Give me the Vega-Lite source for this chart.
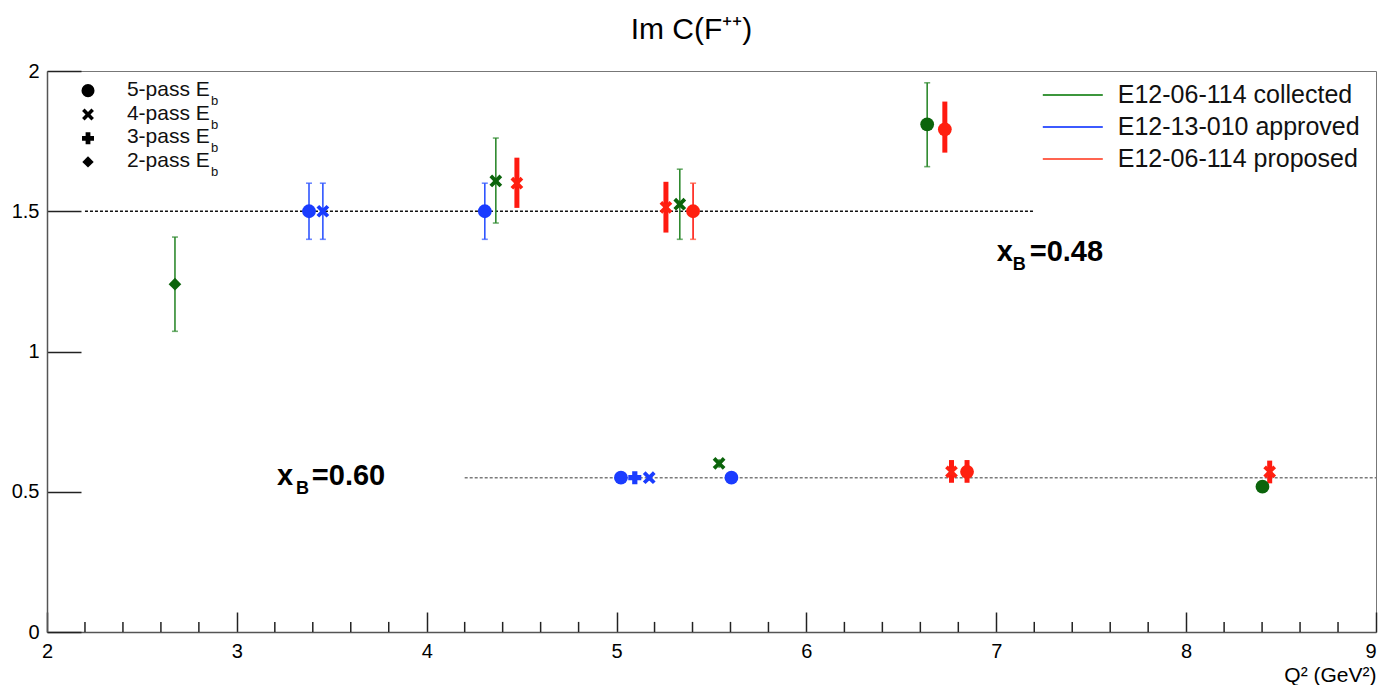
{
  "$schema": "https://vega.github.io/schema/vega-lite/v6.json",
  "autosize": "none",
  "width": 1329,
  "height": 561,
  "padding": {"left": 47, "top": 71, "right": 4, "bottom": 53},
  "background": "white",
  "title": {"text": "Im C(F⁺⁺)", "fontSize": 30, "fontWeight": "normal", "font": "Liberation Sans", "color": "#000", "anchor": "middle", "dx": -20, "offset": 16},
  "config": {
    "view": {"stroke": "#777", "strokeWidth": 1},
    "font": "Liberation Sans",
    "axis": {"grid": false, "labelFont": "Liberation Sans", "titleFont": "Liberation Sans", "labelColor": "#000", "titleColor": "#000", "tickColor": "#222", "tickWidth": 1.5, "domainColor": "#555", "domainWidth": 1.5}
  },
  "datasets": {
    "pts": [
      {"x": 2.674, "y": 1.24, "lo": 1.072, "hi": 1.408, "s": "collected", "p": 2, "bar": "thin"},
      {"x": 3.38, "y": 1.5, "lo": 1.4, "hi": 1.6, "s": "approved", "p": 5, "bar": "thin"},
      {"x": 3.453, "y": 1.5, "lo": 1.4, "hi": 1.6, "s": "approved", "p": 4, "bar": "thin"},
      {"x": 4.306, "y": 1.5, "lo": 1.4, "hi": 1.6, "s": "approved", "p": 5, "bar": "thin"},
      {"x": 4.364, "y": 1.608, "lo": 1.458, "hi": 1.761, "s": "collected", "p": 4, "bar": "thin"},
      {"x": 4.475, "y": 1.6, "lo": 1.512, "hi": 1.691, "s": "proposed", "p": 4, "bar": "thick"},
      {"x": 5.26, "y": 1.514, "lo": 1.424, "hi": 1.605, "s": "proposed", "p": 4, "bar": "thick"},
      {"x": 5.333, "y": 1.525, "lo": 1.4, "hi": 1.65, "s": "collected", "p": 4, "bar": "thin"},
      {"x": 5.403, "y": 1.5, "lo": 1.4, "hi": 1.6, "s": "proposed", "p": 5, "bar": "thin"},
      {"x": 6.636, "y": 1.81, "lo": 1.659, "hi": 1.958, "s": "collected", "p": 5, "bar": "thin"},
      {"x": 6.729, "y": 1.792, "lo": 1.709, "hi": 1.891, "s": "proposed", "p": 5, "bar": "thick"},
      {"x": 5.023, "y": 0.55, "lo": 0.54, "hi": 0.56, "s": "approved", "p": 5, "bar": "thin"},
      {"x": 5.096, "y": 0.55, "lo": 0.54, "hi": 0.56, "s": "approved", "p": 3, "bar": "thin"},
      {"x": 5.172, "y": 0.55, "lo": 0.54, "hi": 0.56, "s": "approved", "p": 4, "bar": "thin"},
      {"x": 5.54, "y": 0.601, "lo": 0.586, "hi": 0.616, "s": "collected", "p": 4, "bar": "thin"},
      {"x": 5.605, "y": 0.55, "lo": 0.54, "hi": 0.56, "s": "approved", "p": 5, "bar": "thin"},
      {"x": 6.764, "y": 0.571, "lo": 0.532, "hi": 0.613, "s": "proposed", "p": 4, "bar": "thick"},
      {"x": 6.846, "y": 0.571, "lo": 0.532, "hi": 0.613, "s": "proposed", "p": 5, "bar": "thick"},
      {"x": 8.402, "y": 0.518, "lo": 0.503, "hi": 0.533, "s": "collected", "p": 5, "bar": "thin"},
      {"x": 8.44, "y": 0.571, "lo": 0.53, "hi": 0.611, "s": "proposed", "p": 4, "bar": "thick"}
    ],
    "guides": [
      {"x": 2.2, "x2": 7.2, "y": 1.5, "g": "upper"},
      {"x": 4.2, "x2": 9.0, "y": 0.55, "g": "lower"}
    ],
    "minor": [
      {"x": 2.2, "y": 0, "y2": 0.036}, {"x": 2.4, "y": 0, "y2": 0.036}, {"x": 2.6, "y": 0, "y2": 0.036}, {"x": 2.8, "y": 0, "y2": 0.036},
      {"x": 3.2, "y": 0, "y2": 0.036}, {"x": 3.4, "y": 0, "y2": 0.036}, {"x": 3.6, "y": 0, "y2": 0.036}, {"x": 3.8, "y": 0, "y2": 0.036},
      {"x": 4.2, "y": 0, "y2": 0.036}, {"x": 4.4, "y": 0, "y2": 0.036}, {"x": 4.6, "y": 0, "y2": 0.036}, {"x": 4.8, "y": 0, "y2": 0.036},
      {"x": 5.2, "y": 0, "y2": 0.036}, {"x": 5.4, "y": 0, "y2": 0.036}, {"x": 5.6, "y": 0, "y2": 0.036}, {"x": 5.8, "y": 0, "y2": 0.036},
      {"x": 6.2, "y": 0, "y2": 0.036}, {"x": 6.4, "y": 0, "y2": 0.036}, {"x": 6.6, "y": 0, "y2": 0.036}, {"x": 6.8, "y": 0, "y2": 0.036},
      {"x": 7.2, "y": 0, "y2": 0.036}, {"x": 7.4, "y": 0, "y2": 0.036}, {"x": 7.6, "y": 0, "y2": 0.036}, {"x": 7.8, "y": 0, "y2": 0.036},
      {"x": 8.2, "y": 0, "y2": 0.036}, {"x": 8.4, "y": 0, "y2": 0.036}, {"x": 8.6, "y": 0, "y2": 0.036}, {"x": 8.8, "y": 0, "y2": 0.036}
    ],
    "keys": [
      {"x": 2.216, "y": 1.93, "p": 5},
      {"x": 2.216, "y": 1.845, "p": 4},
      {"x": 2.216, "y": 1.76, "p": 3},
      {"x": 2.216, "y": 1.676, "p": 2}
    ],
    "keytext": [
      {"x": 2.421, "y": 1.912, "t": "5-pass E", "r": "main"},
      {"x": 2.864, "y": 1.88, "t": "b", "r": "sub"},
      {"x": 2.421, "y": 1.827, "t": "4-pass E", "r": "main"},
      {"x": 2.864, "y": 1.795, "t": "b", "r": "sub"},
      {"x": 2.421, "y": 1.743, "t": "3-pass E", "r": "main"},
      {"x": 2.864, "y": 1.711, "t": "b", "r": "sub"},
      {"x": 2.421, "y": 1.658, "t": "2-pass E", "r": "main"},
      {"x": 2.864, "y": 1.626, "t": "b", "r": "sub"}
    ],
    "legend": [
      {"x": 7.245, "x2": 7.561, "y": 1.914, "tx": 7.64, "s": "collected", "t": "E12-06-114 collected"},
      {"x": 7.245, "x2": 7.561, "y": 1.8, "tx": 7.64, "s": "approved", "t": "E12-13-010 approved"},
      {"x": 7.245, "x2": 7.561, "y": 1.686, "tx": 7.64, "s": "proposed", "t": "E12-06-114 proposed"}
    ],
    "notes": [
      {"x": 7.003, "y": 1.323, "t": "x", "r": "main"},
      {"x": 7.087, "y": 1.29, "t": "B", "r": "sub"},
      {"x": 7.176, "y": 1.323, "t": "=0.48", "r": "main"},
      {"x": 3.211, "y": 0.524, "t": "x", "r": "main"},
      {"x": 3.311, "y": 0.492, "t": "B", "r": "sub"},
      {"x": 3.395, "y": 0.524, "t": "=0.60", "r": "main"}
    ]
  },
  "resolve": {"scale": {"color": "independent", "size": "independent"}},
  "layer": [
    {
      "data": {"name": "guides"},
      "mark": {"type": "rule", "strokeDash": [3, 2], "strokeWidth": 1.5},
      "encoding": {
        "x": {"field": "x", "type": "quantitative", "scale": {"domain": [2, 9], "nice": false, "zero": false},
              "axis": {"values": [2, 3, 4, 5, 6, 7, 8, 9], "format": "d", "tickSize": -20, "labelPadding": 29, "labelFontSize": 20, "labelFlush": false,
                       "labelAlign": {"condition": {"test": "datum.value == 9", "value": "right"}, "value": "center"},
                       "labelDx": {"condition": {"test": "datum.value == 9", "value": 3}, "value": 0},
                       "title": "Q² (GeV²)", "titleFontSize": 21, "titleFontWeight": "normal", "titleAnchor": "end", "titlePadding": 3}},
        "x2": {"field": "x2"},
        "y": {"field": "y", "type": "quantitative", "scale": {"domain": [0, 2], "nice": false, "zero": true},
              "axis": {"values": [0, 0.5, 1, 1.5, 2], "labelExpr": "'' + datum.value", "tickSize": -34, "labelPadding": 42, "labelFontSize": 20, "title": null}},
        "color": {"field": "g", "type": "nominal", "scale": {"domain": ["upper", "lower"], "range": ["#111111", "#7a7a7a"]}, "legend": null}
      }
    },
    {
      "data": {"name": "minor"},
      "mark": {"type": "rule", "color": "#222", "strokeWidth": 1.5},
      "encoding": {
        "x": {"field": "x", "type": "quantitative"},
        "y": {"field": "y", "type": "quantitative"},
        "y2": {"field": "y2"}
      }
    },
    {
      "data": {"name": "pts"},
      "mark": {"type": "rule"},
      "encoding": {
        "x": {"field": "x", "type": "quantitative"},
        "y": {"field": "lo", "type": "quantitative"},
        "y2": {"field": "hi"},
        "color": {"field": "s", "type": "nominal", "scale": {"domain": ["collected", "approved", "proposed"], "range": ["#2f8a2f", "#2f55ff", "#ff1a10"]}, "legend": null},
        "strokeWidth": {"field": "bar", "type": "nominal", "scale": {"domain": ["thin", "thick"], "range": [1.6, 5]}, "legend": null}
      }
    },
    {
      "data": {"name": "pts"},
      "transform": [{"filter": "datum.bar == 'thin' && datum.hi - datum.lo > 0.05"}],
      "mark": {"type": "tick", "orient": "horizontal", "size": 6, "thickness": 1.6},
      "encoding": {
        "x": {"field": "x", "type": "quantitative"},
        "y": {"field": "hi", "type": "quantitative"},
        "color": {"field": "s", "type": "nominal", "scale": {"domain": ["collected", "approved", "proposed"], "range": ["#2f8a2f", "#2f55ff", "#ff4a30"]}, "legend": null}
      }
    },
    {
      "data": {"name": "pts"},
      "transform": [{"filter": "datum.bar == 'thin' && datum.hi - datum.lo > 0.05"}],
      "mark": {"type": "tick", "orient": "horizontal", "size": 6, "thickness": 1.6},
      "encoding": {
        "x": {"field": "x", "type": "quantitative"},
        "y": {"field": "lo", "type": "quantitative"},
        "color": {"field": "s", "type": "nominal", "scale": {"domain": ["collected", "approved", "proposed"], "range": ["#2f8a2f", "#2f55ff", "#ff4a30"]}, "legend": null}
      }
    },
    {
      "data": {"name": "pts"},
      "mark": {"type": "point", "filled": true, "opacity": 1, "strokeWidth": 0},
      "encoding": {
        "x": {"field": "x", "type": "quantitative"},
        "y": {"field": "y", "type": "quantitative"},
        "color": {"field": "s", "type": "nominal", "scale": {"domain": ["collected", "approved", "proposed"], "range": ["#0b640b", "#1a3cff", "#ff2010"]}, "legend": null},
        "shape": {"field": "p", "type": "nominal", "scale": {"domain": [5, 4, 3, 2], "range": ["circle", "M-0.95,-0.55L-0.55,-0.95L0,-0.4L0.55,-0.95L0.95,-0.55L0.4,0L0.95,0.55L0.55,0.95L0,0.4L-0.55,0.95L-0.95,0.55L-0.4,0Z", "cross", "diamond"]}, "legend": null},
        "size": {"field": "p", "type": "nominal", "scale": {"domain": [5, 4, 3, 2], "range": [190, 160, 180, 70]}, "legend": null}
      }
    },
    {
      "data": {"name": "keys"},
      "mark": {"type": "point", "filled": true, "opacity": 1, "strokeWidth": 0, "color": "#000"},
      "encoding": {
        "x": {"field": "x", "type": "quantitative"},
        "y": {"field": "y", "type": "quantitative"},
        "shape": {"field": "p", "type": "nominal", "legend": null},
        "size": {"field": "p", "type": "nominal", "scale": {"domain": [5, 4, 3, 2], "range": [170, 130, 150, 60]}, "legend": null}
      }
    },
    {
      "data": {"name": "keytext"},
      "mark": {"type": "text", "align": "left", "baseline": "alphabetic", "font": "Liberation Sans", "color": "#111"},
      "encoding": {
        "x": {"field": "x", "type": "quantitative"},
        "y": {"field": "y", "type": "quantitative"},
        "text": {"field": "t"},
        "size": {"field": "r", "type": "nominal", "scale": {"domain": ["main", "sub"], "range": [21, 13]}, "legend": null}
      }
    },
    {
      "data": {"name": "legend"},
      "mark": {"type": "rule", "strokeWidth": 2},
      "encoding": {
        "x": {"field": "x", "type": "quantitative"},
        "x2": {"field": "x2"},
        "y": {"field": "y", "type": "quantitative"},
        "color": {"field": "s", "type": "nominal", "scale": {"domain": ["collected", "approved", "proposed"], "range": ["#3c963c", "#3c5aff", "#ff6450"]}, "legend": null}
      }
    },
    {
      "data": {"name": "legend"},
      "mark": {"type": "text", "align": "left", "baseline": "middle", "font": "Liberation Sans", "fontSize": 25, "color": "#111"},
      "encoding": {
        "x": {"field": "tx", "type": "quantitative"},
        "y": {"field": "y", "type": "quantitative"},
        "text": {"field": "t"}
      }
    },
    {
      "data": {"name": "notes"},
      "mark": {"type": "text", "align": "left", "baseline": "alphabetic", "font": "Liberation Sans", "fontWeight": "bold", "color": "#000"},
      "encoding": {
        "x": {"field": "x", "type": "quantitative"},
        "y": {"field": "y", "type": "quantitative"},
        "text": {"field": "t"},
        "size": {"field": "r", "type": "nominal", "scale": {"domain": ["main", "sub"], "range": [29, 18]}, "legend": null}
      }
    }
  ]
}
